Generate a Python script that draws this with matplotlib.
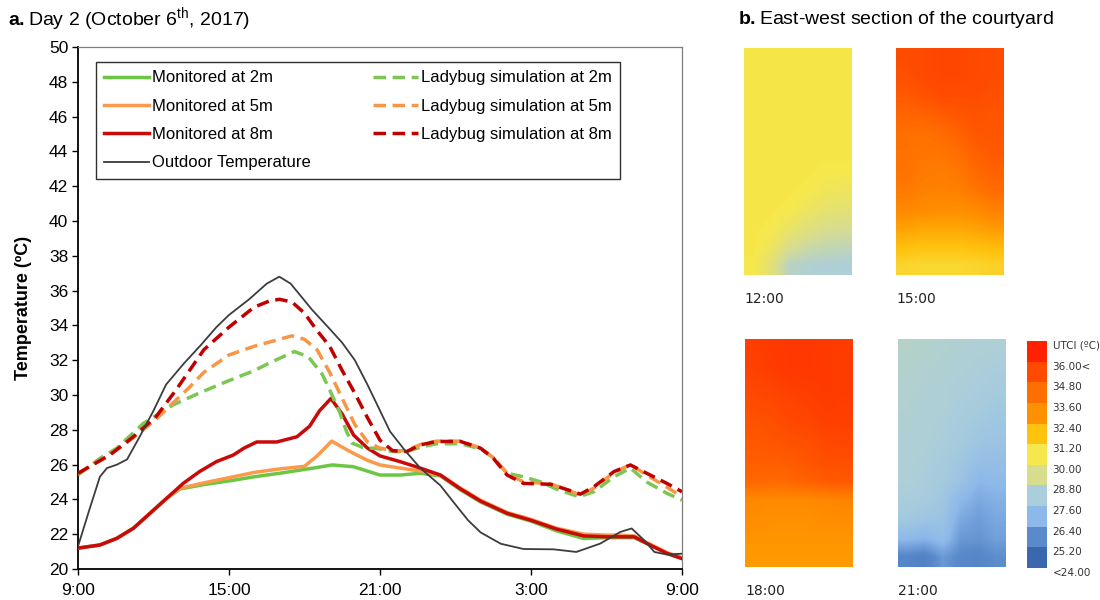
import matplotlib
matplotlib.use("Agg")
import matplotlib.pyplot as plt
from matplotlib.colors import ListedColormap, BoundaryNorm, LinearSegmentedColormap
from matplotlib.cm import ScalarMappable

plt.rcParams['font.family'] = ['Liberation Sans', 'DejaVu Sans']
plt.rcParams['mathtext.fontset'] = 'custom'
plt.rcParams['mathtext.rm'] = 'Liberation Sans'
plt.rcParams['mathtext.bf'] = 'Liberation Sans:bold'

# ---------- panel a: temperature curves (hours after 9:00 on day 2) ----------
tick_hours = [0, 6, 12, 18, 24]
tick_labels = ['9:00', '15:00', '21:00', '3:00', '9:00']

mon2_h = [0, 0.87, 1.54, 2.2, 2.86, 3.52, 4.05, 5.0, 6.17, 7.0, 8.0, 9.35, 10.1, 10.94,
          12.0, 12.8, 13.6, 14.4, 15.2, 16.0, 17.05, 18.0, 19.0, 20.1, 21.0, 22.1, 22.7, 23.4, 24.0]
mon2_t = [21.2, 21.38, 21.76, 22.34, 23.2, 24.06, 24.6, 24.85, 25.1, 25.3, 25.5, 25.8, 25.98, 25.88,
          25.4, 25.4, 25.5, 25.35, 24.55, 23.85, 23.15, 22.75, 22.2, 21.75, 21.8, 21.8, 21.4, 20.9, 20.6]

mon5_h = [0, 0.87, 1.54, 2.2, 2.86, 3.52, 4.05, 5.0, 6.17, 7.0, 8.0, 8.6, 9.0, 9.5, 10.08, 10.5,
          10.94, 11.5, 12.0, 12.8, 13.6, 14.4, 15.2, 16.0, 17.05, 18.0, 19.0, 20.1, 21.0, 21.5,
          22.1, 22.7, 23.4, 24.0]
mon5_t = [21.2, 21.38, 21.76, 22.34, 23.2, 24.06, 24.64, 24.95, 25.3, 25.55, 25.75, 25.84, 25.9,
          26.5, 27.35, 27.0, 26.65, 26.25, 25.98, 25.8, 25.63, 25.4, 24.65, 23.95, 23.25, 22.85,
          22.35, 22.0, 21.95, 21.95, 21.9, 21.45, 20.95, 20.65]

mon8_h = [0, 0.87, 1.54, 2.2, 2.86, 3.52, 4.18, 4.83, 5.5, 6.17, 6.6, 7.1, 7.9, 8.7, 9.2, 9.6,
          10.05, 10.5, 10.95, 11.5, 12.0, 12.8, 13.6, 14.4, 15.2, 16.0, 17.05, 18.0, 19.0, 20.1,
          21.0, 22.1, 22.7, 23.4, 24.0]
mon8_t = [21.2, 21.38, 21.76, 22.34, 23.2, 24.06, 24.92, 25.6, 26.17, 26.55, 26.95, 27.3, 27.3,
          27.6, 28.2, 29.1, 29.8, 28.9, 27.7, 26.95, 26.5, 26.17, 25.8, 25.4, 24.6, 23.9, 23.2,
          22.8, 22.3, 21.9, 21.85, 21.85, 21.4, 20.9, 20.6]

outdoor_h = [0, 0.45, 0.87, 1.15, 1.55, 1.95, 2.45, 3.0, 3.5, 4.2, 4.9, 5.5, 6.0, 6.8, 7.5, 8.0,
             8.45, 9.3, 10.0, 10.5, 11.0, 11.5, 12.0, 12.4, 13.0, 13.6, 14.4, 15.0, 15.5, 16.0,
             16.8, 17.7, 18.9, 19.8, 20.75, 21.55, 22.0, 22.5, 22.9, 23.4, 24.0]
outdoor_t = [21.3, 23.4, 25.3, 25.8, 26.0, 26.3, 27.6, 29.1, 30.6, 31.8, 32.9, 33.9, 34.6, 35.5,
             36.4, 36.8, 36.4, 34.9, 33.8, 33.0, 32.0, 30.6, 29.1, 27.9, 26.8, 25.8, 24.8, 23.7,
             22.8, 22.1, 21.45, 21.15, 21.13, 20.98, 21.46, 22.13, 22.33, 21.65, 20.98, 20.83, 20.88]

lady2_h = [0, 0.87, 1.54, 2.6, 3.78, 4.8, 5.9, 7.0, 7.55, 8.0, 8.6, 9.15, 9.7, 10.0, 10.4, 10.67,
           10.9, 11.3, 12.0, 12.5, 13.06, 13.6, 14.25, 15.2, 16.0, 16.5, 17.05, 17.7, 18.4, 19.0,
           19.9, 20.5, 21.3, 21.95, 22.6, 23.4, 24.0]
lady2_t = [25.4, 26.36, 26.94, 28.37, 29.43, 30.1, 30.77, 31.4, 31.8, 32.1, 32.5, 32.2, 31.2,
           30.3, 29.0, 27.9, 27.23, 27.0, 26.9, 26.75, 26.75, 27.0, 27.2, 27.2, 26.9, 26.4, 25.5,
           25.3, 25.0, 24.6, 24.15, 24.44, 25.3, 25.8, 25.0, 24.35, 23.96]

lady5_h = [0, 1.26, 2.2, 3.1, 3.6, 4.4, 5.0, 6.0, 7.0, 8.0, 8.5, 9.0, 9.5, 10.0, 10.5, 11.0, 11.5,
           12.0, 12.5, 13.06, 13.6, 14.25, 15.2, 16.0, 16.5, 17.05, 17.7, 18.77, 19.7, 19.96, 20.5,
           21.3, 21.95, 22.6, 23.4, 24.0]
lady5_t = [25.5, 26.55, 27.55, 28.6, 29.3, 30.4, 31.3, 32.3, 32.8, 33.2, 33.4, 33.2, 32.6, 31.3,
           29.8, 28.3, 27.3, 26.95, 26.8, 26.8, 27.15, 27.35, 27.35, 26.95, 26.4, 25.5, 25.0, 24.9,
           24.4, 24.25, 24.65, 25.55, 26.0, 25.4, 24.7, 24.15]

lady8_h = [0, 1.26, 2.2, 3.1, 3.9, 5.0, 6.0, 7.0, 7.6, 8.0, 8.5, 9.0, 9.5, 10.0, 10.5, 11.0, 11.5,
           12.0, 12.5, 13.06, 13.6, 14.25, 15.2, 16.0, 16.5, 17.05, 17.7, 18.77, 19.7, 19.96, 20.5,
           21.3, 21.95, 22.6, 23.4, 24.0]
lady8_t = [25.5, 26.55, 27.6, 28.75, 30.3, 32.6, 33.9, 35.05, 35.4, 35.5, 35.35, 34.7, 33.7, 32.8,
           31.4, 30.1, 28.7, 27.4, 26.8, 26.75, 27.13, 27.33, 27.33, 26.94, 26.37, 25.4, 24.92,
           24.87, 24.44, 24.3, 24.73, 25.6, 25.98, 25.5, 24.92, 24.44]

# ---------- panel b: UTCI over the east-west section (rows top -> bottom) ----------
utci_1200 = [
    [30.7, 30.7, 30.7, 30.7, 30.7, 30.7],
    [30.7, 30.7, 30.7, 30.7, 30.7, 30.7],
    [30.7, 30.7, 30.7, 30.7, 30.7, 30.7],
    [30.7, 30.7, 30.7, 30.7, 30.7, 30.7],
    [30.7, 30.7, 30.7, 30.7, 30.7, 30.7],
    [30.7, 30.7, 30.7, 30.7, 30.7, 30.7],
    [30.7, 30.7, 30.7, 30.7, 30.6, 30.6],
    [30.7, 30.7, 30.7, 30.6, 30.4, 30.3],
    [30.7, 30.7, 30.6, 30.3, 30.0, 29.9],
    [30.7, 30.6, 30.2, 29.8, 29.5, 29.4],
    [30.7, 30.3, 29.5, 29.1, 28.9, 28.8],
    [30.6, 29.8, 28.6, 28.4, 28.3, 28.3],
]
utci_1500 = [
    [35.3, 35.4, 35.5, 35.5, 35.4, 35.3],
    [35.2, 35.4, 35.5, 35.5, 35.4, 35.3],
    [34.9, 35.1, 35.3, 35.3, 35.3, 35.2],
    [34.5, 34.6, 34.8, 35.0, 35.1, 35.0],
    [34.2, 34.1, 34.3, 34.6, 35.0, 35.0],
    [34.1, 33.9, 34.0, 34.2, 34.7, 34.9],
    [34.0, 33.8, 33.7, 33.9, 34.4, 34.6],
    [33.8, 33.6, 33.5, 33.6, 34.0, 34.3],
    [33.3, 33.2, 33.1, 33.1, 33.3, 33.6],
    [32.6, 32.5, 32.5, 32.5, 32.6, 32.8],
    [31.9, 31.8, 31.8, 31.8, 31.9, 32.0],
    [31.2, 31.1, 31.1, 31.1, 31.2, 31.3],
]
utci_1800 = [
    [35.9, 36.1, 36.2, 36.2, 36.1, 36.0],
    [35.8, 36.0, 36.2, 36.2, 36.1, 36.0],
    [35.5, 35.7, 35.9, 36.0, 36.1, 36.0],
    [35.3, 35.4, 35.6, 35.8, 36.0, 35.9],
    [35.1, 35.2, 35.4, 35.5, 35.8, 35.8],
    [34.9, 35.0, 35.1, 35.2, 35.4, 35.5],
    [34.7, 34.7, 34.8, 35.0, 35.2, 35.2],
    [34.4, 34.3, 34.4, 34.6, 34.8, 34.9],
    [33.3, 33.2, 33.2, 33.2, 33.3, 33.4],
    [33.1, 33.0, 33.0, 33.0, 33.1, 33.1],
    [32.9, 32.9, 32.9, 32.9, 32.9, 32.9],
    [32.8, 32.8, 32.8, 32.8, 32.8, 32.8],
]
utci_2100 = [
    [28.5, 28.45, 28.4, 28.35, 28.3, 28.3],
    [28.45, 28.4, 28.35, 28.3, 28.25, 28.2],
    [28.4, 28.35, 28.3, 28.25, 28.2, 28.1],
    [28.4, 28.3, 28.3, 28.2, 28.1, 27.9],
    [28.35, 28.3, 28.25, 28.1, 27.9, 27.8],
    [28.3, 28.3, 28.2, 28.0, 27.7, 27.6],
    [28.3, 28.25, 28.1, 27.8, 27.4, 27.4],
    [28.3, 28.2, 28.0, 27.6, 27.0, 27.1],
    [28.2, 28.1, 27.8, 27.0, 26.6, 26.8],
    [27.9, 27.7, 27.6, 26.6, 26.3, 26.6],
    [27.1, 26.9, 27.3, 26.2, 26.1, 26.4],
    [25.6, 25.4, 26.2, 25.7, 25.6, 25.9],
]

utci_bounds = [24.0, 25.2, 26.4, 27.6, 28.8, 30.0, 31.2, 32.4, 33.6, 34.8, 36.0, 37.2]
utci_labels = ['<24.00', '25.20', '26.40', '27.60', '28.80', '30.00', '31.20', '32.40',
               '33.60', '34.80', '36.00<', 'UTCI (ºC)']
utci_colors = ['#3A68AE', '#5A8ACB', '#8DB8EA', '#AACEDC', '#D8DD8E', '#F6E84C',
               '#FFC20E', '#FF9100', '#FF6E00', '#FF4A00', '#FF2200']

# ---------- figure ----------
fig = plt.figure(figsize=(11, 6), dpi=100)

ax = fig.add_axes([78 / 1100, 1 - 569 / 600, 604 / 1100, 522 / 600])

c_green, c_orange, c_red = '#6CC644', '#FA9A4A', '#C80A0A'
lw_m, lw_d = 2.5, 2.5
dash = (3.6, 1.9)

ax.plot(mon2_h, mon2_t, color=c_green, lw=lw_m, label='Monitored at 2m', zorder=3)
ax.plot(mon5_h, mon5_t, color=c_orange, lw=lw_m, label='Monitored at 5m', zorder=3.1)
ax.plot(mon8_h, mon8_t, color=c_red, lw=lw_m, label='Monitored at 8m', zorder=3.2)
ax.plot(outdoor_h, outdoor_t, color='#3C3C3C', lw=1.3, label='Outdoor Temperature', zorder=5)
ax.plot(lady2_h, lady2_t, color='#7CC653', lw=lw_d, dashes=dash,
        label='Ladybug simulation at 2m', zorder=4)
ax.plot(lady5_h, lady5_t, color='#F79646', lw=lw_d, dashes=dash,
        label='Ladybug simulation at 5m', zorder=4.1)
ax.plot(lady8_h, lady8_t, color='#C00000', lw=lw_d, dashes=dash,
        label='Ladybug simulation at 8m', zorder=4.2)

ax.set_xlim(0, 24)
ax.set_ylim(20, 50)
ax.set_xticks(tick_hours)
ax.set_xticklabels(tick_labels)
ax.set_yticks(range(20, 51, 2))
ax.tick_params(axis='both', direction='out', length=4, width=1, labelsize=12.5,
               colors='black', pad=3)
ax.tick_params(axis='x', pad=6)
for s in ['left', 'bottom']:
    ax.spines[s].set_linewidth(1.3)
    ax.spines[s].set_color('black')
for s in ['top', 'right']:
    ax.spines[s].set_linewidth(0.9)
    ax.spines[s].set_color('#7F7F7F')
ax.set_ylabel('Temperature (ºC)', fontsize=13, fontweight='bold', labelpad=12)

leg = ax.legend(ncol=2, loc='upper left', bbox_to_anchor=(0.03, 0.971), borderaxespad=0,
                fontsize=12, handlelength=2.7, handletextpad=0.15, columnspacing=3.75,
                labelspacing=0.8, borderpad=0.5, fancybox=False, framealpha=1)
leg.get_frame().set_edgecolor('#303030')
leg.get_frame().set_linewidth(1.0)

fig.text(8 / 1100, 1 - 20 / 600, r'$\mathbf{a.}$Day 2 (October 6$^{\mathrm{th}}$, 2017)',
         fontsize=14, ha='left', va='center')
fig.text(738 / 1100, 1 - 20 / 600, r'$\mathbf{b.}$East-west section of the courtyard',
         fontsize=14, ha='left', va='center')

# ---------- panel b heatmaps ----------
centers = [(a + b) / 2 for a, b in zip(utci_bounds[:-1], utci_bounds[1:])]
lo, hi = utci_bounds[0], utci_bounds[-1]
smooth_cmap = LinearSegmentedColormap.from_list(
    'utci', [((c - lo) / (hi - lo), col) for c, col in
             zip([lo] + centers[1:-1] + [hi], utci_colors)])

panels = [
    (utci_1200, '12:00', 744, 48, 275),
    (utci_1500, '15:00', 896, 48, 275),
    (utci_1800, '18:00', 745, 339, 567),
    (utci_2100, '21:00', 898, 339, 567),
]
for grid, label, x0, ytop, ybot in panels:
    hax = fig.add_axes([x0 / 1100, 1 - ybot / 600, 108 / 1100, (ybot - ytop) / 600])
    hax.imshow(grid, cmap=smooth_cmap, vmin=lo, vmax=hi, aspect='auto',
               interpolation='bilinear')
    hax.axis('off')
    fig.text(x0 / 1100, 1 - (ybot + 24) / 600, label, fontsize=10,
             family='DejaVu Sans', ha='left', va='center', color='#222222')

cax = fig.add_axes([1027 / 1100, 1 - 568 / 600, 20 / 1100, 227 / 600])
cb = fig.colorbar(ScalarMappable(norm=BoundaryNorm(utci_bounds, len(utci_colors)),
                                 cmap=ListedColormap(utci_colors)),
                  cax=cax, orientation='vertical')
cb.outline.set_visible(False)
cax.set_yticks(utci_bounds)
cax.set_yticklabels(utci_labels, fontsize=7.5, family='DejaVu Sans', color='#333333')
cax.tick_params(length=0, pad=4)
for t in cax.get_yticklabels():
    t.set_va('top')

fig.savefig('out.png', dpi=100)
